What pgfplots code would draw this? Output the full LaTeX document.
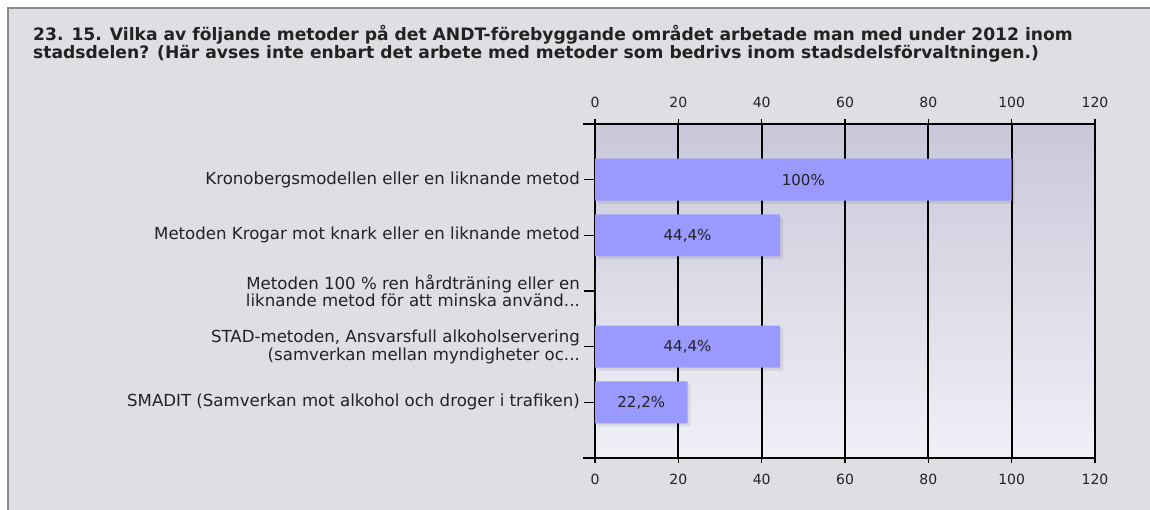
\documentclass[border=0pt]{standalone}
\usepackage{pgfplots}
\pgfplotsset{compat=1.18}
\usepackage{fontspec}
\setmainfont{DejaVu Sans}
\usetikzlibrary{shadows}
\definecolor{framebg}{HTML}{DFDEE3}
\definecolor{framegray}{HTML}{8A8A8A}
\definecolor{barblue}{HTML}{9999FF}
\definecolor{bgtop}{HTML}{C9C8D9}
\definecolor{bgbot}{HTML}{F0F0F7}
\definecolor{txt}{HTML}{222222}
\newcommand{\dd}{...}
\begin{document}
\begin{tikzpicture}[x=1pt,y=1pt]
\fill[white] (0,0) rectangle (1150,-510);
\path[use as bounding box] (0,0) rectangle (1150,-510);
\fill[framebg] (8,-8.5) rectangle (1160,-520);
\draw[framegray, line width=2pt] (8,-520) -- (8,-8.5) -- (1160,-8.5);
\node[anchor=north west, align=left, inner sep=0pt, text=txt,
  font=\fontsize{17.15}{18}\selectfont\bfseries] at (33,-25)
  {23. 15. Vilka av följande metoder på det ANDT-förebyggande området arbetade man med under 2012 inom\\
   stadsdelen? (Här avses inte enbart det arbete med metoder som bedrivs inom stadsdelsförvaltningen.)};
\begin{axis}[
  at={(595pt,-458pt)}, anchor=south west,
  scale only axis, width=500pt, height=334pt,
  xmin=0, xmax=120, ymin=0, ymax=6, y dir=reverse,
  xbar, bar width=42pt,
  xtick={0,20,...,120}, xtick pos=both, xticklabel pos=lower,
  ytick={1,2,3,4,5}, ytick pos=left,
  yticklabels={{Kronobergsmodellen eller en liknande metod},
    {Metoden Krogar mot knark eller en liknande metod},
    {Metoden 100 \% ren hårdträning eller en\\liknande metod för att minska använd\dd},
    {STAD-metoden, Ansvarsfull alkoholservering\\(samverkan mellan myndigheter oc\dd},
    {SMADIT (Samverkan mot alkohol och droger i trafiken)}},
  yticklabel style={align=right, font=\fontsize{16.6}{17.5}\selectfont, text=txt, inner sep=0pt, xshift=-10pt},
  /pgf/number format/assume math mode=true,
  xticklabel style={font=\fontsize{14}{15}\selectfont, text=txt, yshift=-8pt},
  tick align=outside, major tick length=5pt,
  tick style={black, line width=1.4pt},
  ytick style={/pgfplots/major tick length=11pt},
  axis line style={black, line width=1.4pt},
  xmajorgrids, major grid style={black, line width=1.9pt},
  axis background/.style={top color=bgtop, bottom color=bgbot},
  clip=false,
  point meta=explicit symbolic,
  visualization depends on={x \as \rawx},
  nodes near coords,
  every node near coord/.append style={anchor=center, text=txt,
     font=\fontsize{15}{15}\selectfont, xshift={-2.08333*\rawx}},
]
\addplot[fill=barblue, draw=none,
  drop shadow={shadow xshift=3pt, shadow yshift=-3pt, fill=black, opacity=0.08}]
  table[meta=label, y=y, x=x] {
y x label
1 100 100\%
2 44.4 {44,4\%}
3 0 {}
4 44.4 {44,4\%}
5 22.2 {22,2\%}
};
\draw[black, line width=1.4pt] (rel axis cs:0,0) ++(-12pt,0) -- (rel axis cs:0,0);
\draw[black, line width=1.4pt] (rel axis cs:0,1) ++(-12pt,0) -- (rel axis cs:0,1);
\end{axis}
\begin{axis}[
  at={(595pt,-458pt)}, anchor=south west,
  scale only axis, width=500pt, height=334pt,
  xmin=0, xmax=120, ymin=0, ymax=6,
  hide y axis, axis line style={draw=none},
  xtick={0,20,...,120}, xtick pos=upper, xticklabel pos=upper,
  major tick length=5pt, tick align=outside, tick style={draw=none},
  /pgf/number format/assume math mode=true,
  xticklabel style={font=\fontsize{14}{15}\selectfont, text=txt, yshift=8pt},
]
\end{axis}
\end{tikzpicture}
\end{document}
